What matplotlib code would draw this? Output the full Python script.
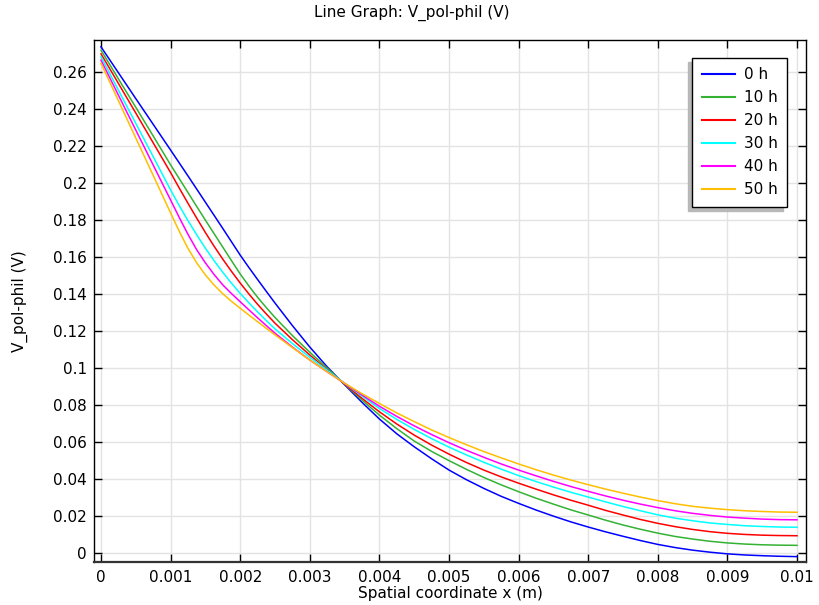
import matplotlib
matplotlib.use("Agg")
import matplotlib.pyplot as plt

x = [0, 0.00025, 0.0005, 0.00075, 0.001,
     0.001125, 0.00125, 0.001375, 0.0015, 0.001625, 0.00175, 0.001875, 0.002,
     0.002125, 0.00225, 0.002375, 0.0025,
     0.00275, 0.003, 0.00325, 0.0035, 0.00375, 0.004, 0.00425, 0.0045, 0.00475, 0.005,
     0.00525, 0.0055, 0.00575, 0.006, 0.00625, 0.0065, 0.00675, 0.007, 0.00725, 0.0075,
     0.00775, 0.008, 0.00825, 0.0085, 0.00875, 0.009, 0.00925, 0.0095, 0.00975, 0.01]

v_0h = [0.2738, 0.2598, 0.2458, 0.2319, 0.2180,
        0.2110, 0.2040, 0.1969, 0.1898, 0.1827, 0.1756, 0.1684, 0.1612,
        0.1545, 0.1480, 0.1416, 0.1353,
        0.1231, 0.1115, 0.1008, 0.0911, 0.0816, 0.0726, 0.0646, 0.0576, 0.0511, 0.0450,
        0.0398, 0.0351, 0.0308, 0.0270, 0.0234, 0.0201, 0.0170, 0.0142, 0.0116, 0.0092,
        0.0069, 0.0048, 0.0031, 0.0017, 0.0006, -0.0003, -0.0009, -0.0013, -0.0016, -0.0018]
v_10h = [0.2720, 0.2565, 0.2411, 0.2256, 0.2100,
         0.2025, 0.1950, 0.1875, 0.1801, 0.1728, 0.1655, 0.1582, 0.1510,
         0.1445, 0.1384, 0.1328, 0.1275,
         0.1177, 0.1087, 0.1001, 0.0914, 0.0828, 0.0747, 0.0674, 0.0607, 0.0551, 0.0501,
         0.0454, 0.0410, 0.0370, 0.0333, 0.0298, 0.0266, 0.0235, 0.0207, 0.0179, 0.0153,
         0.0130, 0.0109, 0.0091, 0.0077, 0.0065, 0.0056, 0.0050, 0.0046, 0.0044, 0.0043]
v_20h = [0.2700, 0.2540, 0.2380, 0.2219, 0.2058,
         0.1974, 0.1892, 0.1812, 0.1734, 0.1660, 0.1590, 0.1524, 0.1461,
         0.1402, 0.1346, 0.1294, 0.1244,
         0.1155, 0.1072, 0.0992, 0.0915, 0.0838, 0.0765, 0.0699, 0.0639, 0.0585, 0.0536,
         0.0491, 0.0450, 0.0413, 0.0379, 0.0347, 0.0316, 0.0287, 0.0260, 0.0232, 0.0207,
         0.0183, 0.0162, 0.0144, 0.0129, 0.0117, 0.0108, 0.0102, 0.0098, 0.0096, 0.0095]
v_30h = [0.2684, 0.2504, 0.2324, 0.2144, 0.1964,
         0.1879, 0.1798, 0.1722, 0.1649, 0.1582, 0.1519, 0.1460, 0.1405,
         0.1354, 0.1305, 0.1258, 0.1213,
         0.1134, 0.1060, 0.0990, 0.0919, 0.0850, 0.0783, 0.0724, 0.0670, 0.0620, 0.0574,
         0.0532, 0.0492, 0.0455, 0.0420, 0.0388, 0.0358, 0.0330, 0.0304, 0.0278, 0.0253,
         0.0230, 0.0208, 0.0190, 0.0176, 0.0164, 0.0156, 0.0149, 0.0145, 0.0142, 0.0141]
v_40h = [0.2666, 0.2477, 0.2288, 0.2099, 0.1910,
         0.1815, 0.1724, 0.1641, 0.1570, 0.1507, 0.1451, 0.1404, 0.1360,
         0.1316, 0.1273, 0.1231, 0.1190,
         0.1115, 0.1045, 0.0981, 0.0919, 0.0856, 0.0795, 0.0740, 0.0689, 0.0642, 0.0598,
         0.0557, 0.0519, 0.0483, 0.0450, 0.0419, 0.0389, 0.0361, 0.0335, 0.0310, 0.0287,
         0.0266, 0.0247, 0.0230, 0.0216, 0.0205, 0.0196, 0.0190, 0.0185, 0.0182, 0.0181]
v_50h = [0.2649, 0.2447, 0.2245, 0.2043, 0.1840,
         0.1740, 0.1648, 0.1570, 0.1505, 0.1450, 0.1403, 0.1362, 0.1325,
         0.1288, 0.1252, 0.1216, 0.1181,
         0.1112, 0.1045, 0.0981, 0.0919, 0.0863, 0.0810, 0.0759, 0.0712, 0.0667, 0.0626,
         0.0587, 0.0550, 0.0516, 0.0483, 0.0452, 0.0423, 0.0396, 0.0371, 0.0347, 0.0325,
         0.0304, 0.0285, 0.0268, 0.0254, 0.0244, 0.0236, 0.0230, 0.0226, 0.0223, 0.0222]

series = [v_0h, v_10h, v_20h, v_30h, v_40h, v_50h]
labels = ["0 h", "10 h", "20 h", "30 h", "40 h", "50 h"]
colors = ["#0000ff", "#33b233", "#ff0000", "#00ffff", "#ff00ff", "#ffbf00"]

xticks = [0, 0.001, 0.002, 0.003, 0.004, 0.005, 0.006, 0.007, 0.008, 0.009, 0.01]
xticklabels = ["0", "0.001", "0.002", "0.003", "0.004", "0.005", "0.006",
               "0.007", "0.008", "0.009", "0.01"]
yticks = [0, 0.02, 0.04, 0.06, 0.08, 0.1, 0.12, 0.14, 0.16, 0.18, 0.2, 0.22,
          0.24, 0.26]
yticklabels = ["0", "0.02", "0.04", "0.06", "0.08", "0.1", "0.12", "0.14",
               "0.16", "0.18", "0.2", "0.22", "0.24", "0.26"]

plt.rcParams["font.family"] = ["DejaVu Sans"]
fig = plt.figure(figsize=(8.19, 6.05), dpi=100)
ax = fig.add_axes([94 / 819, 43 / 605, 712 / 819, 522 / 605])

for vals, lab, col in zip(series, labels, colors):
    ax.plot(x, vals, color=col, lw=1.1, label=lab)

ax.set_xlim(-0.0001006, 0.010129)
ax.set_ylim(-0.0047, 0.2775)
ax.set_xticks(xticks)
ax.set_xticklabels(xticklabels)
ax.set_yticks(yticks)
ax.set_yticklabels(yticklabels)
ax.grid(True, color="#e3e3e3", lw=1.0)
ax.set_axisbelow(True)
ax.tick_params(direction="in", length=6, width=1, top=True, right=True,
               labelsize=11, colors="black")
ax.tick_params(axis="x", pad=6)
ax.tick_params(axis="y", pad=5)
for s in ax.spines.values():
    s.set_linewidth(1.0)
    s.set_color("black")
ax.spines["bottom"].set_linewidth(1.6)
ax.spines["bottom"].set_color("#333333")

ax.set_xlabel("Spatial coordinate x (m)", fontsize=11, labelpad=0.5)
ax.set_ylabel("V_pol-phil (V)", fontsize=11, labelpad=18)
fig.text(412 / 819, 1 - 13 / 605, "Line Graph: V_pol-phil (V)", fontsize=11,
         ha="center", va="center")

leg = ax.legend(loc="upper right", bbox_to_anchor=(0.9733, 0.9655),
                borderaxespad=0, fontsize=11, fancybox=False, framealpha=1,
                edgecolor="black", handlelength=2.2, handletextpad=0.55,
                labelspacing=0.52, borderpad=0.62,
                shadow={"ox": -2.8, "oy": -2.8, "color": "#b8b8b8", "alpha": 1})
leg.get_frame().set_linewidth(1.0)
for h in leg.get_lines():
    h.set_linewidth(1.5)

fig.savefig("out.png", dpi=100)
